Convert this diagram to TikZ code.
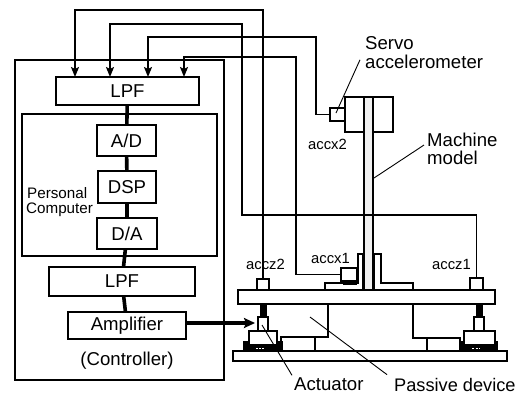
\documentclass[tikz,border=0pt]{standalone}
\usepackage{fontspec}
\setmainfont{Liberation Sans}
\usetikzlibrary{arrows.meta}
\newcommand{\bx}[6][box]{\node[#1,minimum width=#5pt-#3pt,minimum height=#6pt-#4pt] (#2) at ({(#3+#5)/2},{(#4+#6)/2}) {};}
\tikzset{
  frame/.style={draw=black,line width=1.8pt,inner sep=0pt,outer sep=0pt},
  box/.style={frame,fill=white},
  solid box/.style={draw=black,fill=black,inner sep=0pt,outer sep=0pt},
  big/.style={font=\fontsize{18.6}{20}\selectfont,inner sep=0pt},
  mid/.style={font=\fontsize{15.2}{17}\selectfont,inner sep=0pt},
  small/.style={font=\fontsize{14.8}{16}\selectfont,inner sep=0pt},
  wire/.style={line width=1.8pt},
  bus/.style={line width=3.6pt},
  signal/.style={wire,-{Stealth[length=10pt,width=8pt,inset=2pt]}},
  leader/.style={line width=0.9pt}
}
\begin{document}
\begin{tikzpicture}[x=1pt,y=-1pt]
\useasboundingbox (0,0) rectangle (527,394);
% controller
\bx[frame]{ctrl}{15}{60}{224}{380}
\bx[frame]{pc}{22}{114}{217}{256}
\bx{lpfa}{56}{77}{199}{105}
\bx{ad}{97}{125}{156}{156}
\bx{dsp}{98}{171}{156}{203}
\bx{da}{97}{218}{157}{249}
\bx{lpfb}{49}{267}{195}{296}
\bx{amp}{68}{312}{186}{339}
\node[big] at (lpfa) {LPF};
\node[big] at (ad) {A/D};
\node[big] at (dsp) {DSP};
\node[big] at (da) {D/A};
\node[big] at (lpfb) {LPF};
\node[big] at (amp) {Amplifier};
\node[big] (ctrllabel) at (127,361) {(Controller)};
\node[mid,anchor=west] (pclabela) at (27,193) {Personal};
\node[mid,anchor=west] (pclabelb) at (26,210) {Computer};
\draw[bus] (lpfa) -- (ad);
\draw[bus] (ad) -- (dsp);
\draw[bus] (dsp) -- (da);
\draw[bus] (da) -- (lpfb);
\draw[bus] (lpfb) -- (amp);
% plates and passive devices
\bx{top}{238}{290}{495}{304}
\bx{bottom}{233}{351}{507}{361}
\draw[wire] (328,304) -- (328,337) -- (281,337);
\bx{pada}{281}{337}{315}{351}
\draw[wire] (413,304) -- (413,338) -- (460,338);
\bx{padb}{427}{338}{460}{351}
% actuators
\bx[solid box]{nla}{260}{304}{266}{317}
\bx[solid box]{nlb}{476}{304}{482}{317}
\bx[solid box]{fta}{243}{341}{282}{351}
\bx[solid box]{ftb}{460}{341}{497}{351}
\bx{acta}{249}{331}{277}{345}
\bx{actb}{464}{331}{495}{345}
\bx{roda}{258}{317}{268}{331}
\bx{rodb}{474}{317}{484}{331}
\draw[white,line width=1.2pt,dash pattern=on 1.5pt off 1.5pt] (256,348.5) -- (264,348.5);
\draw[white,line width=1.2pt,dash pattern=on 2pt off 1.5pt] (472,348.5) -- (480,348.5);
% machine model
\draw[wire,fill=white] (325,290) |- (358,283) |- (363,254) -- (363,290) -- cycle;
\draw[wire,fill=white] (381,254) -- (381,283) -- (413,283) -- (413,290) -- (374,290) -- (374,254) -- cycle;
\bx{head}{345}{97}{393}{132}
\node[draw=black,line width=2.4pt,fill=gray!12,inner sep=0pt,minimum width=9.5pt,minimum height=193pt] (col) at (368.5,193.5) {};
% sensors
\bx{servo}{330}{108}{345}{121}
\bx[solid box]{accxpad}{343}{281}{356}{284}
\bx{accxa}{341}{268}{357}{281}
\bx{acczb}{257}{279}{269}{290}
\bx{acczc}{470}{278}{483}{290}
% signal wires
\draw[signal] (acczb.north) -- (263,10) -- (75,10) -- (75,77);
\draw[signal] (acczc.north) -- (476.5,215) -- (242,215) -- (242,24) -- (110,24) -- (110,77);
\draw[signal] (servo.west) -- (316,114.5) -- (316,37) -- (148,37) -- (148,77);
\draw[signal] (accxa.west) -- (296,274.5) -- (296,57) -- (184,57) -- (184,77);
\coordinate (ampout) at (186,323);
\coordinate (ampin) at (255,323);
\draw[line width=3.4pt,-{Stealth[length=11pt,width=10pt,inset=2pt]}] (ampout) -- (ampin);
% labels
\node[big,anchor=west] (servolabel) at (365,43) {Servo};
\node[big,anchor=west] (acclabel) at (365,62) {accelerometer};
\node[big,anchor=west] (machlabel) at (427,140) {Machine};
\node[big,anchor=west] (modellabel) at (427,158) {model};
\node[small,anchor=west] (accx2label) at (308,144) {accx2};
\node[small,anchor=west] (accx1label) at (311,258) {accx1};
\node[small,anchor=west] (accz2label) at (246,264) {accz2};
\node[small,anchor=west] (accz1label) at (432,264) {accz1};
\node[big,anchor=west] (actlabel) at (294,384) {Actuator};
\node[font=\fontsize{18.2}{20}\selectfont,inner sep=0pt,anchor=west] (passlabel) at (394,384.5) {Passive device};
% leaders
\draw[leader] (servolabel.south west) ++(-5,10) -- (336,113);
\draw[leader] (machlabel.south west) ++(-3,-2) -- (374,178);
\draw[leader] (actlabel.north west) ++(-2,-2) -- (262,325);
\draw[leader] (passlabel.north west) ++(-7,-3) -- (310,317);
\end{tikzpicture}
\end{document}
